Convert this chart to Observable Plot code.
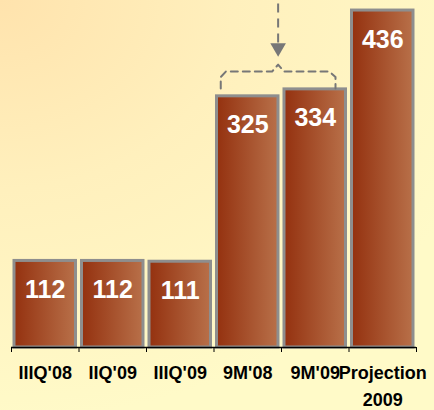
<!DOCTYPE html>
<html>
<head>
<meta charset="utf-8">
<script src="https://cdn.jsdelivr.net/npm/d3@7"></script>
<script src="https://cdn.jsdelivr.net/npm/@observablehq/plot@0.6"></script>
<style>
  html, body { margin: 0; padding: 0; }
  body {
    width: 434px; height: 410px; overflow: hidden;
    background: radial-gradient(ellipse 520px 420px at 0px 0px, #ffe3ad 0%, #fff0bd 45%, #fffac8 100%);
    font-family: "Liberation Sans", Arial, sans-serif;
  }
  svg { display: block; }
</style>
</head>
<body>
<div id="chart"></div>
<script>
// Data
const categories = ["IIIQ'08", "IIQ'09", "IIIQ'09", "9M'08", "9M'09", "Projection\n2009"];
const values = [112, 112, 111, 325, 334, 436];

const data = categories.map((c, i) => ({ c, i, v: values[i] }));

// Bracket annotation around the two 9M bars, derived from the data
const iA = categories.indexOf("9M'08");
const iB = categories.indexOf("9M'09");
const base = values[iB];
const left = iA + 0.1, right = iB + 0.8, mid = (left + right) / 2;
const bracket = [
  [left, base + 1], [left, base + 16], [left + 0.075, base + 23],
  [mid - 0.09, base + 23], [mid, base + 32], [mid + 0.09, base + 23],
  [right - 0.09, base + 23], [right, base + 16], [right, base + 1]
].map(([x, y]) => ({ x, y }));
const yMax = 449;

const plot = Plot.plot({
  width: 434,
  height: 410,
  marginLeft: 11,
  marginRight: 18,
  marginTop: 0,
  marginBottom: 63,
  x: { domain: [0, categories.length] },
  y: { domain: [0, yMax], axis: null },
  style: { background: "transparent", fontFamily: "'Liberation Sans', Arial, sans-serif", overflow: "visible" },
  marks: [
    Plot.rectY(data, {
      x1: d => d.i, x2: d => d.i + 1, y: "v",
      insetLeft: 3, insetRight: 3,
      fill: "url(#barGrad)", stroke: "#8e8e8e", strokeWidth: 3
    }),
    Plot.ruleY([0], { stroke: "#000", strokeWidth: 1.5 }),
    Plot.axisX({ ticks: d3.range(categories.length + 1), tickSize: 5, tickFormat: () => "", label: null, stroke: "#000" }),
    Plot.text(data, {
      x: d => d.i + 0.5, y: "v", text: d => String(d.v), dy: 29,
      fill: "white", fontSize: 25, fontWeight: "bold"
    }),
    Plot.text(data, {
      x: d => d.i + 0.5, y: () => 0, text: "c", lineAnchor: "top", dy: 12,
      fontSize: 18, fontWeight: "bold", lineHeight: 1.5, fill: "black"
    }),
    Plot.line(bracket, { x: "x", y: "y", stroke: "#777", strokeWidth: 2, strokeDasharray: "7,5" }),
    Plot.ruleX([mid], { y1: base + 60, y2: yMax, stroke: "#777", strokeWidth: 2, strokeDasharray: "9,6" }),
    Plot.dot([mid], { x: d => d, y: base + 54, symbol: "triangle", rotate: 180, r: 5.8, fill: "#777", stroke: "none" })
  ]
});

const defs = d3.create("svg:defs");
const g = defs.append("linearGradient").attr("id", "barGrad").attr("x1", "0").attr("x2", "1").attr("y1", "0").attr("y2", "0");
g.append("stop").attr("offset", "0%").attr("stop-color", "#94310f");
g.append("stop").attr("offset", "100%").attr("stop-color", "#b87049");
plot.insertBefore(defs.node(), plot.firstChild);

document.getElementById("chart").appendChild(plot);
</script>
</body>
</html>
